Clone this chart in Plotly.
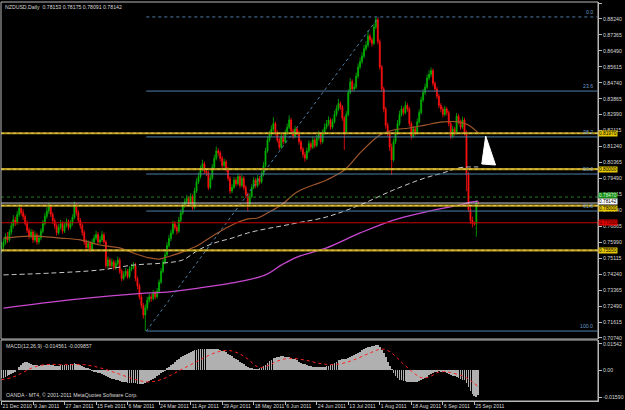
import plotly.graph_objects as go

# ---------------- data (prices in pips, 1e-4) ----------------
opens = [7560,7575,7598,7630,7612,7655,7690,7722,7705,7752,7785,7762,7740,7702,7665,7632,7655,7612,7640,7601,
7622,7660,7702,7741,7770,7792,7752,7718,7690,7651,7680,7702,7660,7692,7712,7681,7703,7735,7800,7762,
7720,7690,7652,7601,7570,7592,7561,7600,7622,7641,7600,7612,7640,7601,7470,7502,7470,7491,7460,7482,
7502,7440,7400,7421,7440,7410,7452,7461,7472,7400,7360,7300,7252,7200,7240,7281,7300,7290,7321,7300,
7331,7380,7440,7490,7530,7581,7620,7650,7700,7680,7660,7720,7760,7800,7821,7840,7810,7850,7790,7880,
7930,7960,8000,8030,7990,7980,7900,7950,8010,8060,8100,8090,8060,8020,8040,8000,7950,7880,7900,7940,
7920,7960,7910,7950,7900,7860,7810,7850,7900,7940,7910,7950,7930,7970,8020,8100,8160,8190,8220,8250,
8200,8160,8120,8180,8150,8200,8230,8270,8210,8180,8220,8200,8150,8110,8080,8060,8100,8140,8120,8160,
8130,8170,8190,8150,8200,8230,8250,8270,8230,8260,8300,8330,8360,8340,8280,8200,8300,8420,8480,8440,
8450,8510,8560,8590,8620,8660,8680,8730,8710,8690,8780,8820,8700,8560,8440,8330,8240,8200,8120,8050,
8150,8200,8250,8300,8330,8310,8350,8330,8250,8180,8220,8200,8260,8310,8380,8420,8450,8500,8520,8540,
8470,8440,8400,8350,8330,8300,8330,8310,8250,8180,8220,8200,8290,8260,8230,8270,8200,7970,7780,7720,
7700,7700,7815]
highs = [7602,7620,7648,7655,7670,7712,7748,7740,7770,7808,7796,7780,7752,7718,7680,7672,7668,7660,7652,7640,
7675,7720,7760,7792,7815,7805,7765,7730,7702,7698,7722,7715,7710,7730,7725,7720,7752,7822,7812,7775,
7732,7702,7665,7615,7610,7605,7618,7640,7662,7655,7632,7660,7652,7612,7520,7515,7510,7502,7498,7520,
7515,7452,7440,7458,7452,7468,7480,7490,7485,7412,7372,7315,7265,7258,7300,7318,7315,7338,7332,7348,
7395,7458,7508,7548,7600,7640,7668,7718,7715,7695,7738,7778,7818,7840,7858,7852,7868,7862,7898,7950,
7982,8020,8052,8042,8005,7992,7968,8028,8080,8125,8115,8102,8072,8058,8052,8012,7962,7918,7958,7955,
7978,7972,7968,7962,7912,7872,7868,7918,7958,7952,7968,7962,7988,8040,8118,8180,8210,8240,8285,8262,
8212,8172,8198,8192,8218,8250,8295,8282,8222,8238,8232,8212,8162,8122,8095,8118,8158,8152,8178,8172,
8188,8210,8202,8218,8250,8270,8290,8282,8278,8320,8350,8385,8372,8352,8292,8318,8438,8500,8492,8470,
8530,8580,8612,8642,8680,8702,8760,8742,8722,8798,8835,8830,8712,8572,8452,8342,8255,8212,8140,8168,
8220,8270,8320,8350,8342,8372,8362,8342,8262,8238,8232,8278,8328,8398,8440,8470,8520,8542,8558,8552,
8482,8452,8412,8362,8342,8348,8342,8322,8262,8238,8232,8308,8302,8272,8288,8282,8212,7985,7795,7740,
7712,7830,7818]
lows = [7540,7560,7585,7595,7600,7640,7675,7688,7695,7738,7745,7722,7690,7650,7615,7620,7595,7600,7585,7588,
7610,7648,7690,7728,7755,7738,7700,7672,7635,7640,7668,7645,7650,7680,7665,7670,7690,7725,7745,7705,
7672,7635,7585,7552,7558,7545,7550,7588,7610,7585,7590,7600,7590,7455,7458,7452,7460,7445,7448,7470,
7425,7385,7390,7410,7398,7400,7440,7450,7385,7342,7285,7235,7180,7112,7225,7268,7272,7280,7285,7290,
7320,7370,7430,7478,7520,7570,7605,7640,7665,7642,7650,7708,7750,7788,7808,7795,7800,7775,7780,7870,
7918,7948,7988,7975,7962,7885,7890,7940,8000,8048,8072,8042,8005,8008,7985,7935,7865,7868,7890,7905,
7910,7895,7900,7885,7842,7770,7798,7840,7890,7895,7900,7915,7920,7960,8010,8090,8148,8178,8208,8185,
8145,8105,8110,8135,8140,8188,8220,8195,8165,8170,8185,8135,8095,8062,8040,8050,8090,8105,8110,8115,
8120,8158,8135,8140,8188,8218,8238,8215,8220,8250,8288,8318,8325,8265,8105,8190,8290,8410,8425,8428,
8440,8498,8548,8578,8608,8648,8668,8695,8672,8680,8768,8685,8545,8425,8312,8222,8180,8100,7968,8040,
8138,8188,8238,8288,8295,8300,8315,8235,8162,8170,8185,8190,8250,8300,8368,8408,8440,8488,8505,8455,
8425,8385,8335,8312,8285,8290,8295,8235,8165,8170,8185,8190,8245,8215,8220,8185,7880,7765,7700,7680,
7690,7630,7809]
closes = [7575,7598,7630,7612,7655,7690,7722,7705,7752,7785,7762,7740,7702,7665,7632,7655,7612,7640,7601,7622,
7660,7702,7741,7770,7792,7752,7718,7690,7651,7680,7702,7660,7692,7712,7681,7703,7735,7800,7762,7720,
7690,7652,7601,7570,7592,7561,7600,7622,7641,7600,7612,7640,7601,7470,7502,7470,7491,7460,7482,7502,
7440,7400,7421,7440,7410,7452,7461,7472,7400,7360,7300,7252,7200,7240,7281,7300,7290,7321,7300,7331,
7380,7440,7490,7530,7581,7620,7650,7700,7680,7660,7720,7760,7800,7821,7840,7810,7850,7790,7880,7930,
7960,8000,8030,7990,7980,7900,7950,8010,8060,8100,8090,8060,8020,8040,8000,7950,7880,7900,7940,7920,
7960,7910,7950,7900,7860,7810,7850,7900,7940,7910,7950,7930,7970,8020,8100,8160,8190,8220,8250,8200,
8160,8120,8180,8150,8200,8230,8270,8210,8180,8220,8200,8150,8110,8080,8060,8100,8140,8120,8160,8130,
8170,8190,8150,8200,8230,8250,8270,8230,8260,8300,8330,8360,8340,8280,8200,8300,8420,8480,8440,8450,
8510,8560,8590,8620,8660,8680,8730,8710,8690,8780,8820,8700,8560,8440,8330,8240,8200,8120,8050,8150,
8200,8250,8300,8330,8310,8350,8330,8250,8180,8220,8200,8260,8310,8380,8420,8450,8500,8520,8540,8470,
8440,8400,8350,8330,8300,8330,8310,8250,8180,8220,8200,8290,8260,8230,8270,8200,7970,7780,7720,7700,
7700,7815,7814]

x_tick_idx = [0,16,32,48,64,80,96,112,128,144,160,176,192,208,224,240]
x_tick_text = ["21 Dec 2010","9 Jan 2011","27 Jan 2011","15 Feb 2011","6 Mar 2011","24 Mar 2011",
               "11 Apr 2011","29 Apr 2011","18 May 2011","6 Jun 2011","24 Jun 2011","13 Jul 2011",
               "1 Aug 2011","18 Aug 2011","6 Sep 2011","25 Sep 2011"]

y_tick_text = ["0.70740","0.71615","0.72490","0.73365","0.74240","0.75115","0.75990","0.76865",
               "0.77740","0.78615","0.79490","0.80365","0.81240","0.82115","0.82990","0.83865",
               "0.84740","0.85615","0.86490","0.87365","0.88240","0.89115"]

# moving averages (knots: bar index, price)
ma_brown_idx = [1,15,30,40,50,60,67,75,80,84,92,100,108,117,125,130,135,142,150,165,174,182,190,194,199,207,215,224,232,237,242]
ma_brown_val = [0.7622,0.7633,0.7622,0.7612,0.7584,0.7568,0.7540,0.7513,0.7507,0.7518,0.7546,0.7584,0.7639,0.7694,
                0.7727,0.7732,0.7760,0.7803,0.7875,0.7941,0.7995,0.8089,0.8171,0.8198,0.8215,0.8226,0.8242,0.8259,
                0.8259,0.8242,0.8198]
ma_white_idx = [1,25,50,67,82,92,100,108,117,125,134,142,150,165,182,199,215,224,232,237,242]
ma_white_val = [0.7420,0.7430,0.7447,0.7474,0.7485,0.7502,0.7557,0.7595,0.7622,0.7650,0.7672,0.7688,0.7705,
                0.7738,0.7804,0.7886,0.7952,0.7979,0.8007,0.8012,0.8012]
ma_magenta_idx = [1,25,50,75,84,100,117,134,142,150,165,182,199,215,232,239,242]
ma_magenta_val = [0.7238,0.7271,0.7299,0.7321,0.7326,0.7348,0.7376,0.7420,0.7474,0.7518,0.7568,0.7650,0.7721,
                  0.7765,0.7803,0.7820,0.7825]

# MACD main (histogram, 1e-4) and signal knots
macd_hist = [-48,-46,-42,-38,-32,-25,-18,-10,0,15,30,42,47,46,42,36,32,
30,28,26,27,29,30,32,33,31,28,25,24,26,29,31,30,28,29,33,
37,40,38,33,27,22,16,11,7,3,-1,
-6,-12,-16,-20,-25,-31,-37,-42,-46,-50,-53,-57,-60,-64,-68,-71,-73,-74,-75,-76,-77,-79,-81,-82,-82,-80,-78,
-72,-66,-59,-52,-45,-37,-29,-20,-11,-2,
8,18,28,38,48,57,66,75,83,90,96,102,107,111,115,118,121,123,124,125,124,124,125,125,124,123,121,118,114,
109,103,96,88,80,72,64,56,48,40,33,26,19,13,8,5,4,5,8,
14,22,31,41,52,61,68,73,77,79,80,80,79,78,76,
72,67,62,56,50,44,38,33,28,24,21,19,
17,16,15,15,16,18,21,25,30,36,43,50,56,60,62,62,65,71,78,84,89,95,101,108,115,122,128,133,137,140,143,146,147,
138,120,98,74,50,24,2,
-18,-35,-48,-56,-61,-64,-67,-69,-71,-73,-73,-72,-70,-66,
-61,-55,-48,-40,-32,-25,-18,-13,-8,-5,
-6,-9,-13,-18,-23,-28,-33,-38,-43,-48,-52,-56,-60,-75,-100,-125,-142,-150,-159,-146]
sig_idx = [0,5,10,15,20,25,30,35,40,45,50,55,60,65,70,74,78,82,86,90,95,100,105,110,115,120,125,129,132,136,140,145,
           150,155,160,165,170,175,180,185,189,192,195,198,201,204,207,210,213,216,219,222,225,228,232,236,239,242]
sig_val = [-57,-45,-20,10,28,33,32,31,33,26,13,-5,-25,-45,-62,-70,-66,-52,-30,-5,25,55,85,107,115,100,65,25,15,30,52,68,
           66,56,42,33,33,45,65,90,110,122,120,100,70,35,5,-25,-45,-45,-30,-12,-10,-15,-28,-45,-70,-98]

fib_low, fib_high = 0.7112, 0.8835
fib_low_idx, fib_high_idx = 73.5, 191.5
fib_ratios = [0.0, 23.6, 38.2, 50.0, 61.8, 100.0]
gold_levels = [0.8197, 0.8000, 0.7800, 0.7555]
gold_label_shift = [0, 0, -2.5, 0]
red_level = 0.7706
green_level = 0.7847
bid_level = 0.78142

TITLE = "NZDUSD,Daily  0.78153 0.78175 0.78091 0.78142"
MACD_TITLE = "MACD(12,26,9) -0.014561 -0.009857"
COPYRIGHT = "OANDA - MT4, \u00a9 2001-2011 MetaQuotes Software Corp."

# ---------------- layout geometry ----------------
W, H = 625, 410
ML, MR, MT, MB = 1, 18, 2, 9
PW, PH = W - ML - MR, H - MT - MB
X0 = -0.25
def py(p): return (H - MB - p) / PH
def px(p): return (p - ML) / PW
def vy(p): return 0.89115 - (p - 3) / 1823.0   # price at pixel row (for drawing objects)
def ix(p): return X0 + (p - ML) / 2.0          # bar index at pixel column (for drawing objects)

FONT = "Liberation Sans"
AX = "#b8b8b8"
TXT = "#d8d8d8"
FS = 5.2
BFS = 4.8

bars = list(range(len(closes)))
fig = go.Figure()

fig.add_trace(go.Candlestick(
    x=bars, open=[v/1e4 for v in opens], high=[v/1e4 for v in highs],
    low=[v/1e4 for v in lows], close=[v/1e4 for v in closes],
    increasing=dict(line=dict(color="#00b400", width=0.8), fillcolor="#00b400"),
    decreasing=dict(line=dict(color="#ff1010", width=0.8), fillcolor="#ff1010"),
    whiskerwidth=0, xaxis="x", yaxis="y", showlegend=False, hoverinfo="skip"))

fig.add_trace(go.Scatter(x=ma_brown_idx, y=ma_brown_val, mode="lines", line=dict(color="#a0562a", width=1.2, shape="spline"),
                         xaxis="x", yaxis="y", showlegend=False))
fig.add_trace(go.Scatter(x=ma_white_idx, y=ma_white_val, mode="lines", line=dict(color="#c8c8c8", width=1, dash="5px,3px", shape="spline"),
                         xaxis="x", yaxis="y", showlegend=False))
fig.add_trace(go.Scatter(x=ma_magenta_idx, y=ma_magenta_val, mode="lines", line=dict(color="#c848d0", width=1.3, shape="spline"),
                         xaxis="x", yaxis="y", showlegend=False))
# fib trend line
fig.add_trace(go.Scatter(x=[fib_low_idx, fib_high_idx], y=[fib_low, fib_high], mode="lines",
                         line=dict(color="#4f7fa8", width=1, dash="dot"), xaxis="x", yaxis="y", showlegend=False))

fig.add_trace(go.Bar(x=bars, y=[v/1e4 for v in macd_hist], width=0.4, marker=dict(color="#b0b0b0", line=dict(width=0)),
                     xaxis="x", yaxis="y2", showlegend=False))
fig.add_trace(go.Scatter(x=sig_idx, y=[v/1e4 for v in sig_val], mode="lines", line=dict(color="#ff2020", width=1, dash="dot", shape="spline"),
                         xaxis="x", yaxis="y2", showlegend=False))

shapes = []
annotations = []
# gold horizontal lines
for lv in gold_levels:
    shapes.append(dict(type="line", xref="paper", x0=0, x1=1, yref="y", y0=lv, y1=lv, line=dict(color="#b89a22", width=2.2)))
    shapes.append(dict(type="line", xref="paper", x0=0, x1=1, yref="y", y0=lv, y1=lv, line=dict(color="#f0d850", width=0.8, dash="dot")))
shapes.append(dict(type="line", xref="paper", x0=0, x1=1, yref="y", y0=red_level, y1=red_level, line=dict(color="#c80000", width=1)))
shapes.append(dict(type="line", xref="paper", x0=0, x1=1, yref="y", y0=green_level, y1=green_level, line=dict(color="#1e7a1e", width=1, dash="dot")))
shapes.append(dict(type="line", xref="paper", x0=0, x1=1, yref="y", y0=bid_level, y1=bid_level, line=dict(color="#d0d0d0", width=1)))
# fib levels
for r in fib_ratios:
    lv = fib_high - r / 100.0 * (fib_high - fib_low)
    shapes.append(dict(type="line", xref="x", x0=fib_low_idx, x1=302.5, yref="y", y0=lv, y1=lv,
                       line=dict(color="#4f7fa8", width=1, dash="dot" if r == 0 else "solid")))
    annotations.append(dict(xref="paper", x=px(604), xanchor="right", yref="y", y=lv, yanchor="bottom",
                            text="%.1f" % r, showarrow=False, font=dict(family=FONT, size=FS, color="#6a9cc8")))
# white arrow (drawing object)
tri = [(493, 136), (489, 164), (503, 165)]
path = "M %f,%f L %f,%f L %f,%f Z" % tuple(v for p in tri for v in (ix(p[0]), vy(p[1])))
shapes.append(dict(type="path", xref="x", yref="y", path=path, fillcolor="#ffffff", line=dict(color="#ffffff", width=1)))
# pane frames
shapes.append(dict(type="rect", xref="paper", yref="paper", x0=0, x1=1, y0=py(339), y1=1, line=dict(color=AX, width=1)))
shapes.append(dict(type="rect", xref="paper", yref="paper", x0=0, x1=1, y0=0, y1=py(340), line=dict(color=AX, width=1)))

# price label boxes on the right axis
def box(val, bg, fg="#000000", shift=0):
    annotations.append(dict(xref="paper", x=px(607.5), xanchor="left", yref="y", y=val, yanchor="middle", yshift=shift,
                            text="%.5f" % val, showarrow=False, bgcolor=bg, borderpad=0,
                            font=dict(family=FONT, size=BFS, color=fg)))
for lv, sh in zip(gold_levels, gold_label_shift):
    box(lv, "#e8c800", shift=sh)
box(green_level, "#148a14", "#d8ffd8", shift=2)
box(bid_level, "#ffffff", shift=1.5)
box(red_level, "#e00000", "#300000")

annotations.append(dict(xref="paper", yref="paper", x=px(3), y=py(2.5), xanchor="left", yanchor="top", text=TITLE,
                        showarrow=False, font=dict(family=FONT, size=FS, color=TXT)))
annotations.append(dict(xref="paper", yref="paper", x=px(4), y=py(341), xanchor="left", yanchor="top", text=MACD_TITLE,
                        showarrow=False, font=dict(family=FONT, size=FS, color=TXT)))
annotations.append(dict(xref="paper", yref="paper", x=px(4), y=py(399.5), xanchor="left", yanchor="bottom", text=COPYRIGHT,
                        showarrow=False, font=dict(family=FONT, size=FS, color=TXT)))

fig.update_layout(
    width=W, height=H, margin=dict(l=ML, r=MR, t=MT, b=MB, pad=0),
    paper_bgcolor="#000000", plot_bgcolor="#000000", showlegend=False,
    font=dict(family=FONT, size=FS, color=TXT),
    xaxis=dict(range=[X0, X0 + PW / 2.0], anchor="y2", domain=[0, 1], tickmode="array", tickvals=x_tick_idx, ticktext=x_tick_text,
               ticks="outside", ticklen=3, tickcolor=AX, showline=True, linecolor=AX, showgrid=False, zeroline=False,
               tickangle=0, ticklabelposition="outside right", rangeslider=dict(visible=False), tickfont=dict(size=FS, color=TXT)),
    yaxis=dict(domain=[py(339), 1], range=[vy(339), vy(2)], side="right", anchor="x", tickmode="array",
               tickvals=[float(t) for t in y_tick_text], ticktext=y_tick_text, ticks="outside", ticklen=3, tickcolor=AX,
               showline=True, linecolor=AX, showgrid=False, zeroline=False, tickfont=dict(size=FS, color=TXT)),
    yaxis2=dict(domain=[0, py(340)], range=[-0.018235, 0.017647], side="right", anchor="x", tickmode="array",
                tickvals=[0.01542, 0.0, -0.0159], ticktext=["0.01542", "0.00", "-0.01590"], ticks="outside", ticklen=3,
                tickcolor=AX, showline=True, linecolor=AX, showgrid=False, zeroline=False, tickfont=dict(size=FS, color=TXT)),
    shapes=shapes, annotations=annotations, bargap=0,
)

fig.write_html("out.html")
